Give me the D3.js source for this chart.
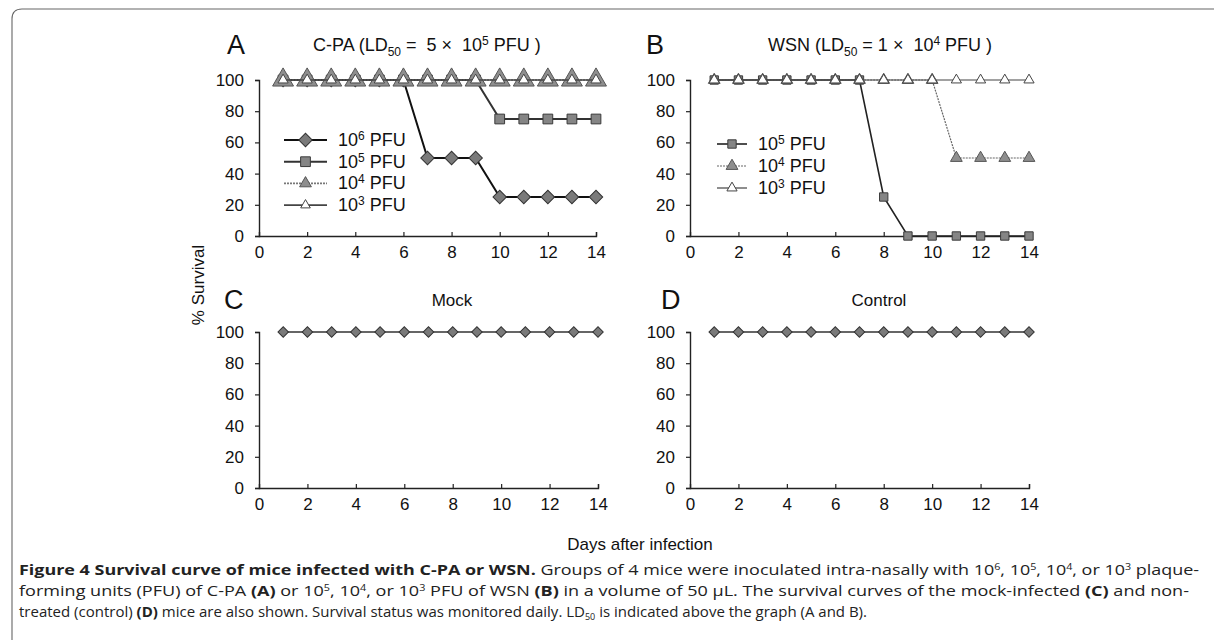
<!DOCTYPE html>
<html>
<head>
  <meta charset="utf-8">
  <title>Survival curves</title>
  <script src="https://cdn.jsdelivr.net/npm/d3@7/dist/d3.min.js"></script>
  <style>
    body { margin: 0; background: #fff; }
    svg text { font-family: "Liberation Sans", Arial, sans-serif; fill: #111; }
    svg .cap { font-family: "Open Sans", "Noto Sans", sans-serif; fill: #222; }
  </style>
</head>
<body>
<div id="chart"></div>
<script>
// data (days 1..14, % survival)
var days = [1, 2, 3, 4, 5, 6, 7, 8, 9, 10, 11, 12, 13, 14];
var cpa1e6 = [100, 100, 100, 100, 100, 100, 50, 50, 50, 25, 25, 25, 25, 25];
var cpa1e5 = [100, 100, 100, 100, 100, 100, 100, 100, 100, 75, 75, 75, 75, 75];
var cpa1e4 = [100, 100, 100, 100, 100, 100, 100, 100, 100, 100, 100, 100, 100, 100];
var cpa1e3 = [100, 100, 100, 100, 100, 100, 100, 100, 100, 100, 100, 100, 100, 100];
var wsn1e5 = [100, 100, 100, 100, 100, 100, 100, 25, 0, 0, 0, 0, 0, 0];
var wsn1e4 = [100, 100, 100, 100, 100, 100, 100, 100, 100, 100, 50, 50, 50, 50];
var wsn1e3 = [100, 100, 100, 100, 100, 100, 100, 100, 100, 100, 100, 100, 100, 100];
var mock = [100, 100, 100, 100, 100, 100, 100, 100, 100, 100, 100, 100, 100, 100];
var control = [100, 100, 100, 100, 100, 100, 100, 100, 100, 100, 100, 100, 100, 100];
var xTicks = [0, 2, 4, 6, 8, 10, 12, 14];
var yTicks = [0, 20, 40, 60, 80, 100];

var W = 1214, H = 640;
var svg = d3.select("#chart").append("svg").attr("width", W).attr("height", H);

// page frame with rounded top-left corner
svg.append("path")
  .attr("d", "M12,640 L12,19 Q12,9 22,9 L1214,9")
  .attr("fill", "none").attr("stroke", "#666").attr("stroke-width", 1.1);

// marker styles
var styles = {
  diamond: { shape: d3.symbolSquare, rot: 45, fill: "#7a7a7a", stroke: "#333" },
  square: { shape: d3.symbolSquare, rot: 0, fill: "#858585", stroke: "#3a3a3a" },
  grayTri: { shape: d3.symbolTriangle, rot: 0, fill: "#8e8e8e", stroke: "#555" },
  openTri: { shape: d3.symbolTriangle, rot: 0, fill: "#fff", stroke: "#444" }
};

function panel(opt) {
  var x = d3.scaleLinear().domain([0, 14]).range([opt.x0, opt.x1]);
  var y = d3.scaleLinear().domain([0, 100]).range([opt.y0, opt.y1]);
  var g = svg.append("g");

  var yAxis = g.append("g").attr("transform", "translate(" + opt.x0 + ",0)")
    .call(d3.axisLeft(y).tickValues(yTicks).tickSize(4).tickPadding(11));
  var xAxis = g.append("g").attr("transform", "translate(0," + opt.y0 + ")")
    .call(d3.axisBottom(x).tickValues(xTicks).tickSize(-4).tickPadding(10));
  [xAxis, yAxis].forEach(function(a) {
    a.select(".domain").attr("stroke", "#222").attr("stroke-width", 1.4);
    a.selectAll(".tick line").attr("stroke", "#222").attr("stroke-width", 1.2);
    a.selectAll(".tick text").attr("font-size", 17).attr("fill", "#111")
      .attr("font-family", "Liberation Sans, Arial, sans-serif");
  });
  xAxis.selectAll(".tick line").attr("stroke-width", function(d) { return d === 0 ? 0 : 1.2; });

  var line = d3.line().x(function(d) { return x(d[0]); }).y(function(d) { return y(d[1]); });

  opt.series.forEach(function(s) {
    var pts = days.map(function(d, i) { return [d, s.values[i]]; });
    var st = styles[s.marker];
    g.append("path").attr("d", line(pts)).attr("fill", "none")
      .attr("stroke", s.lineColor).attr("stroke-width", s.lineWidth)
      .attr("stroke-dasharray", s.dash || null);
    g.selectAll(null).data(pts).enter().append("path")
      .attr("d", d3.symbol().type(st.shape).size(s.size))
      .attr("transform", function(d) { return "translate(" + x(d[0]) + "," + y(d[1]) + ") rotate(" + st.rot + ")"; })
      .attr("fill", st.fill).attr("stroke", st.stroke).attr("stroke-width", s.markerStroke || 1);
  });

  // legend
  if (opt.legend) {
    opt.series.forEach(function(s, i) {
      var ly = opt.legend.y + i * opt.legend.dy;
      var st = styles[s.marker];
      g.append("line").attr("x1", opt.legend.x).attr("x2", opt.legend.x + opt.legend.len)
        .attr("y1", ly).attr("y2", ly)
        .attr("stroke", s.lineColor).attr("stroke-width", s.lineWidth)
        .attr("stroke-dasharray", s.dash || null);
      g.append("path").attr("d", d3.symbol().type(st.shape).size(s.legendSize || s.size))
        .attr("transform", "translate(" + (opt.legend.x + opt.legend.len / 2) + "," + ly + ") rotate(" + st.rot + ")")
        .attr("fill", st.fill).attr("stroke", st.stroke).attr("stroke-width", s.markerStroke || 1);
      var t = g.append("text").attr("x", opt.legend.x + opt.legend.len + 11).attr("y", ly + 6)
        .attr("font-size", 18);
      t.append("tspan").text("10");
      t.append("tspan").attr("font-size", 12).attr("dy", -6).text(s.exp);
      t.append("tspan").attr("dy", 6).text(" PFU");
    });
  }
}

// Panel A
panel({
  x0: 259, x1: 596, y0: 236, y1: 80,
  series: [
    { values: cpa1e6, exp: "6", marker: "diamond", size: 90, lineColor: "#111", lineWidth: 2 },
    { values: cpa1e5, exp: "5", marker: "square", size: 95, lineColor: "#333", lineWidth: 2 },
    { values: cpa1e4, exp: "4", marker: "grayTri", size: 190, legendSize: 60, lineColor: "#777", lineWidth: 1.6, dash: "2,1" },
    { values: cpa1e3, exp: "3", marker: "openTri", size: 45, legendSize: 40, lineColor: "#444", lineWidth: 1.6 }
  ],
  legend: { x: 284, len: 43, y: 140, dy: 21.7 }
});

// Panel B
panel({
  x0: 690, x1: 1029, y0: 236, y1: 80,
  series: [
    { values: wsn1e5, exp: "5", marker: "square", size: 70, lineColor: "#222", lineWidth: 1.6 },
    { values: wsn1e4, exp: "4", marker: "grayTri", size: 60, lineColor: "#666", lineWidth: 1.2, dash: "2,1" },
    { values: wsn1e3, exp: "3", marker: "openTri", size: 45, lineColor: "#444", lineWidth: 1.2 }
  ],
  legend: { x: 717, len: 30, y: 144, dy: 22 }
});

// Panel C
panel({
  x0: 259, x1: 598, y0: 488, y1: 332,
  series: [{ values: mock, marker: "diamond", size: 55, lineColor: "#333", lineWidth: 1.3 }]
});

// Panel D
panel({
  x0: 690, x1: 1029, y0: 488, y1: 332,
  series: [{ values: control, marker: "diamond", size: 55, lineColor: "#333", lineWidth: 1.3 }]
});

// panel letters and titles
[["A", 227, 54], ["B", 646, 54], ["C", 224, 309], ["D", 661, 309]].forEach(function(p) {
  svg.append("text").attr("x", p[1]).attr("y", p[2]).attr("font-size", 27).text(p[0]);
});

function ldTitle(x, y, name, coef, exp) {
  var t = svg.append("text").attr("x", x).attr("y", y).attr("font-size", 18);
  t.append("tspan").text(name + " (LD");
  t.append("tspan").attr("font-size", 12).attr("dy", 5).text("50");
  t.append("tspan").attr("dy", -5).text(" = " + coef + " \u00d7\u00a0\u00a010");
  t.append("tspan").attr("font-size", 12).attr("dy", -6).text(exp);
  t.append("tspan").attr("dy", 6).text(" PFU )");
}
ldTitle(313, 51, "C-PA", "\u00a05", "5");
ldTitle(768, 51, "WSN", "1", "4");

svg.append("text").attr("x", 452).attr("y", 306).attr("font-size", 17).attr("text-anchor", "middle").text("Mock");
svg.append("text").attr("x", 879).attr("y", 306).attr("font-size", 17).attr("text-anchor", "middle").text("Control");

svg.append("text").attr("transform", "translate(204,285) rotate(-90)")
  .attr("font-size", 17).attr("text-anchor", "middle").text("% Survival");
svg.append("text").attr("x", 640).attr("y", 550).attr("font-size", 17)
  .attr("text-anchor", "middle").text("Days after infection");

// caption
function capLine(y, len, parts) {
  var t = svg.append("text").attr("class", "cap").attr("x", 19).attr("y", y)
    .attr("font-size", 15).attr("textLength", len).attr("lengthAdjust", "spacingAndGlyphs");
  parts.forEach(function(p) {
    var s = t.append("tspan").text(p[0]);
    if (p[1] === "b") s.attr("font-weight", "bold");
    if (p[1] === "sup") s.attr("font-size", 9).attr("dy", -5);
    if (p[1] === "sub") s.attr("font-size", 9).attr("dy", 3);
    if (p[2]) s.attr("dy", p[2]);
  });
}
capLine(575, 1180, [
  ["Figure 4 Survival curve of mice infected with C-PA or WSN.", "b"],
  [" Groups of 4 mice were inoculated intra-nasally with 10"], ["6", "sup"], [", 10", "", 5],
  ["5", "sup"], [", 10", "", 5], ["4", "sup"], [", or 10", "", 5], ["3", "sup"], [" plaque-", "", 5]
]);
capLine(596, 1170, [
  ["forming units (PFU) of C-PA "], ["(A)", "b"], [" or 10"], ["5", "sup"], [", 10", "", 5],
  ["4", "sup"], [", or 10", "", 5], ["3", "sup"], [" PFU of WSN ", "", 5], ["(B)", "b"],
  [" in a volume of 50 \u03bcL. The survival curves of the mock-infected "], ["(C)", "b"], [" and non-"]
]);
capLine(617, 848, [
  ["treated (control) "], ["(D)", "b"],
  [" mice are also shown. Survival status was monitored daily. LD"], ["50", "sub"],
  [" is indicated above the graph (A and B).", "", -3]
]);
</script>
</body>
</html>
